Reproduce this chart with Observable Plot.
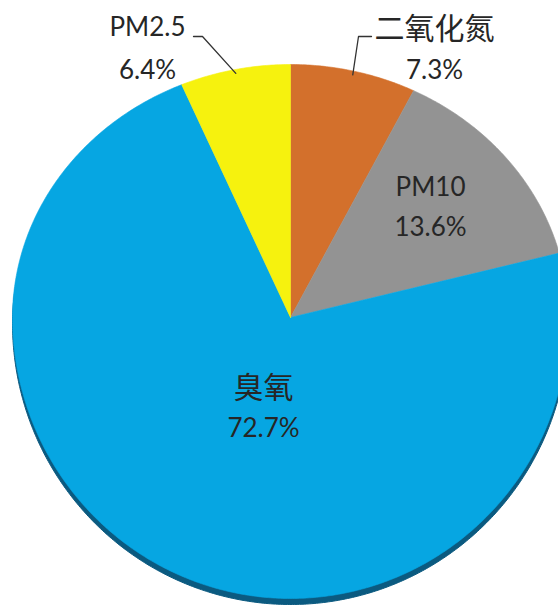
<!DOCTYPE html>
<html>
<head>
<meta charset="utf-8">
<script src="https://cdn.jsdelivr.net/npm/d3@7"></script>
<script src="https://cdn.jsdelivr.net/npm/@observablehq/plot@0.6"></script>
<style>
  html, body { margin: 0; padding: 0; background: #fff; }
</style>
</head>
<body>
<div id="chart"></div>
<script>
// ---- data ----
const categories = ["二氧化氮", "PM10", "臭氧", "PM2.5"];
const values = [7.3, 13.6, 72.7, 6.4];
const percentLabels = ["7.3%", "13.6%", "72.7%", "6.4%"];

// ---- style / layout ----
const colors = ["#D3702C", "#939393", "#06A6E2", "#F6F20E"];
const shadowColor = "#0B5A80";
const W = 558, H = 605;
const cx = 290, cy = 317, rx = 278, ryTop = 253, ryBot = 281;
// label anchors (name line, percent line)
const labelX = [434, 430, 263, 147];
const nameY = [29, 187, 388, 27];
const pctY = [70, 227, 428, 70];
const outside = [true, false, false, true];
// leader line elbow / end for outside labels
const leaderElbow = [[358, 36], null, null, [202, 36]];
const leaderEnd = [[371, 36], null, null, [193, 36]];

function pt(deg, f = 1) {
  const a = deg * Math.PI / 180;
  const s = Math.sin(a), c = Math.cos(a);
  return {x: cx + f * rx * s, y: cy - f * (c > 0 ? ryTop : ryBot) * c};
}

const total = d3.sum(values);
let acc = 0;
const slices = values.map((v, i) => {
  const a0 = acc / total * 360;
  acc += v;
  const a1 = acc / total * 360;
  const pts = [{x: cx, y: cy}];
  const n = Math.max(2, Math.ceil((a1 - a0) / 0.5));
  for (let k = 0; k <= n; k++) pts.push(pt(a0 + (a1 - a0) * k / n));
  pts.push({x: cx, y: cy});
  return {cat: categories[i], a0, a1, mid: (a0 + a1) / 2, pts};
});

const blueIdx = categories.indexOf("臭氧");
const shadowPts = slices[blueIdx].pts.map(p => ({x: p.x, y: p.y + 6}));

const leaders = [];
slices.forEach((s, i) => {
  if (!outside[i]) return;
  const p = pt(s.mid, 0.985);
  leaders.push({i, x: p.x, y: p.y});
  leaders.push({i, x: leaderElbow[i][0], y: leaderElbow[i][1]});
  leaders.push({i, x: leaderEnd[i][0], y: leaderEnd[i][1]});
});

const labels = categories.map((c, i) => ({name: c, pct: percentLabels[i], x: labelX[i], ny: nameY[i], py: pctY[i]}));
const isCJK = s => /[\u4e00-\u9fff]/.test(s);
const font = "Lato, 'Noto Sans CJK SC', sans-serif";

const chart = Plot.plot({
  width: W, height: H,
  margin: 0,
  style: {background: "#fff"},
  x: {domain: [0, W], range: [0, W], axis: null},
  y: {domain: [0, H], range: [0, H], axis: null},
  marks: [
    Plot.line(shadowPts, {x: "x", y: "y", fill: shadowColor, stroke: shadowColor, strokeWidth: 1, curve: "linear"}),
    ...slices.map((s, i) => Plot.line(s.pts, {x: "x", y: "y", fill: colors[i], stroke: colors[i], strokeWidth: 0.6, curve: "linear"})),
    Plot.line(leaders, {x: "x", y: "y", z: "i", stroke: "#333", strokeWidth: 1.3}),
    Plot.text(labels, {x: "x", y: "ny", text: "name", fontSize: d => isCJK(d.name) ? 30 : 26, fontFamily: font, fill: "#262626"}),
    Plot.text(labels, {x: "x", y: "py", text: "pct", fontSize: 26, fontFamily: font, fill: "#262626"})
  ]
});
document.getElementById("chart").appendChild(chart);
</script>
</body>
</html>
